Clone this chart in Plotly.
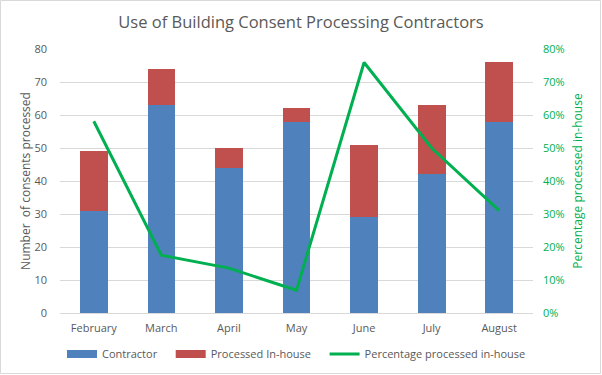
import plotly.graph_objects as go

months = ["February", "March", "April", "May", "June", "July", "August"]
contractor = [31, 63, 44, 58, 29, 42, 58]
in_house = [18, 11, 6, 4, 22, 21, 18]
pct_in_house = [0.581, 0.175, 0.136, 0.069, 0.759, 0.50, 0.31]

W, H = 602, 375
L, R, T, B = 60, 69, 49, 62
FONT = "Open Sans"
GREY = "#595959"
GREEN = "#00B050"
BLUE = "#4F81BD"
RED = "#C0504D"

fig = go.Figure()
fig.add_trace(go.Bar(x=months, y=contractor, name="Contractor", showlegend=False,
                     marker=dict(color=BLUE, line=dict(width=0))))
fig.add_trace(go.Bar(x=months, y=in_house, name="Processed In-house", showlegend=False,
                     marker=dict(color=RED, line=dict(width=0))))
fig.add_trace(go.Scatter(x=months, y=pct_in_house, name="Percentage processed in-house",
                         mode="lines", line=dict(color=GREEN, width=3), yaxis="y2",
                         showlegend=False))
# legend entries (legend-only keys in the reference's style)
for name, color, width in [("Contractor\u00a0\u00a0\u00a0", BLUE, 8),
                           ("Processed In-house\u00a0\u00a0\u00a0", RED, 8),
                           ("Percentage processed in-house", GREEN, 3)]:
    fig.add_trace(go.Scatter(x=[None], y=[None], name=name, mode="lines",
                             line=dict(color=color, width=width), showlegend=True))

pw = W - L - R
ph = H - T - B
fig.update_layout(
    width=W, height=H,
    margin=dict(l=L, r=R, t=T, b=B, autoexpand=False),
    barmode="stack", bargap=0.59,
    paper_bgcolor="white", plot_bgcolor="white",
    font=dict(family=FONT, color=GREY, size=11),
    title=dict(text="Use of Building Consent Processing Contractors",
               x=0.5, xanchor="center", y=1 - 22 / H, yanchor="middle",
               font=dict(family=FONT, size=16.5, color=GREY)),
    xaxis=dict(showgrid=False, showline=True, linecolor="#D9D9D9", linewidth=1,
               ticks="", automargin=False, ticklabelstandoff=5,
               tickfont=dict(size=11, color=GREY)),
    yaxis=dict(range=[0, 80], dtick=10, showgrid=True, gridcolor="#D9D9D9",
               zeroline=False, showline=False, ticks="", ticklen=0, automargin=False,
               ticklabelstandoff=12, tickfont=dict(size=11, color=GREY),
               title=dict(text="Number  of consents processed",
                          font=dict(size=12, color=GREY), standoff=0)),
    yaxis2=dict(range=[0, 0.8], dtick=0.1, tickformat=".0%", overlaying="y",
                side="right", showgrid=False, zeroline=False, showline=False,
                automargin=False, ticklabelstandoff=9, tickfont=dict(size=11, color=GREEN),
                title=dict(text="Percentage processed in-house",
                           font=dict(size=12, color=GREEN), standoff=9)),
    legend=dict(orientation="h", x=0.5, xanchor="center",
                y=(T + ph - 354) / ph, yanchor="middle", itemwidth=30,
                font=dict(size=11, color=GREY), traceorder="normal"),
    showlegend=True,
)

# chart border
fig.add_shape(type="rect", xref="paper", yref="paper",
              x0=(0.5 - L) / pw, x1=(W - 1.5 - L) / pw,
              y0=-(B - 1.5) / ph, y1=1 + (T - 0.5) / ph,
              line=dict(color="#D9D9D9", width=1), layer="below")

fig.write_html("out.html", config={"displayModeBar": False},
               post_script="document.body.style.margin='0';document.body.style.overflow='hidden';")
